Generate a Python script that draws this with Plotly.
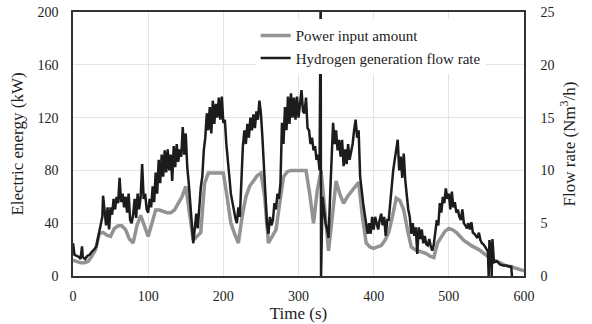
import plotly.graph_objects as go

# Power input amount (kW)
power_t = [0,5,10,15,20,25,30,35,40,45, 50,55,60,65,70,75,80,85,90,95,
           100,105,110,115,120,125,130,135,140,145, 150,155,160,165,170,175,180,190,200,205,
           210,215,220,225,230,235,240,245,250,255, 260,265,270,275,280,285,290,300,310,315,
           320,325,330,335,340,345,350,355,360,365, 370,375,380,385,390,395,400,405,410,415,
           420,425,430,435,440,445,450,455,460,465, 470,475,480,485,490,495,500,505,510,515,
           520,525,530,540,550,556,565,575,583,590, 600]
power_kw = [12,11,10,10,11,15,20,32,33,31, 30,36,38,38,35,28,25,38,46,38,
            30,40,50,50,49,48,48,50,55,60, 68,45,27,30,33,70,78,78,78,60,
            40,32,25,45,60,68,72,76,78,60, 25,30,35,55,75,79,80,80,80,62,
            40,65,80,50,19,45,72,62,55,60, 64,68,71,45,25,22,21,22,23,27,
            33,45,59,57,50,35,22,20,19,18, 17,15,14,25,30,34,36,35,33,30,
            27,25,23,20,16,13,11,8,7,6, 4]

# Hydrogen generation flow rate (Nm3/h)
h2_t = [0,2,5,8,10,12,13,16,19,22,
        25,28,31,34,37,39,40,42,44,46,
        48,50,52,54,56,58,60,62,64,66,
        68,70,72,74,76,78,80,82,84,86,
        88,90,92,94,96,98,100,102,104,106,
        108,110,112,114,116,118,120,122,124,126,
        128,130,132,134,136,138,140,142,144,146,
        148,150,152,154,156,158,160,162,164,166,
        168,170,172,174,176,178,180,182,184,186,
        188,190,192,194,196,198,200,202,204,206,
        208,210,212,214,216,218,220,222,224,226,
        228,230,232,234,236,238,240,242,244,246,
        248,250,252,254,256,258,260,262,264,266,
        268,270,272,274,276,278,280,282,284,286,
        288,290,292,294,296,298,300,302,304,306,
        308,310,312,314,316,318,320,322,324,326,
        328,329.5,330,332,334,336,338,340,342,344,
        346,348,350,352,354,356,358,360,362,364,
        366,368,370,372,374,376,378,380,382,384,
        386,388,390,392,394,396,398,400,402,404,
        406,408,410,412,414,416,418,420,422,424,
        426,428,430,432,434,436,438,440,442,444,
        446,448,450,452,454,456,458,460,462,464,
        466,468,470,472,474,476,478,480,482,484,
        486,488,490,492,494,496,498,500,502,504,
        506,508,510,512,514,516,518,520,522,524,
        526,528,530,532,534,536,538,540,542,544,
        546,548,550,552,553,554,556,557,558,560,
        564,568,572,576,580,583,584]
h2_flow = [3.1,2.0,1.9,1.8,1.6,2.8,1.8,1.6,1.9,2.0,
           2.3,2.5,2.8,3.8,4.8,5.6,7.6,6.0,4.8,6.5,
           4.4,6.5,5.8,7.3,6.3,7.5,6.9,9.3,7.0,7.8,
           6.5,7.5,6.0,7.8,5.3,5.0,5.8,7.3,5.5,7.8,
           6.3,7.5,10.6,7.3,7.8,6.3,6.0,7.3,6.5,8.5,
           7.0,9.8,7.8,11.0,8.8,11.5,9.4,11.9,9.8,12.0,
           10.0,11.5,9.0,12.3,10.3,12.5,10.8,12.0,11.3,14.1,
           11.5,13.5,10.3,8.8,6.3,5.0,3.1,4.8,5.9,4.5,
           6.9,8.4,9.4,11.9,13.1,15.4,13.8,16.0,13.5,16.6,
           14.4,16.3,15.0,16.9,14.8,17.0,14.5,14.8,12.5,10.6,
           9.4,7.8,6.9,6.0,5.5,5.0,6.5,5.6,9.4,12.3,
           13.8,12.5,14.4,13.1,15.0,13.8,15.3,14.0,15.6,14.8,
           16.6,15.4,13.1,10.0,7.5,5.0,4.0,5.6,4.8,5.3,
           6.9,6.3,7.8,7.3,8.8,14.5,12.5,16.0,13.8,17.0,
           14.4,17.3,15.0,16.9,14.8,17.0,15.0,16.3,17.6,15.6,
           15.4,16.9,14.0,13.8,12.5,13.1,11.9,12.3,11.0,11.5,
           10.0,26.3,0,7.5,6.0,5.0,4.4,3.6,7.5,10.6,
           14.5,12.5,13.8,11.9,12.9,11.3,12.9,10.4,12.0,10.6,
           12.5,11.0,11.6,12.5,13.8,14.8,13.1,13.8,9.4,7.8,
           6.9,5.9,5.0,4.0,5.0,4.0,5.6,4.4,5.6,4.8,
           4.4,5.3,5.9,4.8,5.6,3.8,5.3,5.3,6.9,8.8,
           10.0,11.0,11.9,12.9,10.0,11.3,9.3,11.6,9.1,7.5,
           6.3,5.6,4.0,5.0,3.8,4.6,2.1,4.6,3.5,4.4,
           3.1,3.8,3.0,2.9,3.5,2.8,2.4,3.0,4.4,5.3,
           4.8,6.9,6.0,7.5,6.9,8.3,7.3,7.8,6.3,8.0,
           6.5,7.0,6.0,6.3,5.6,5.3,6.3,5.0,4.8,4.5,
           5.0,4.4,5.1,4.1,4.0,3.8,3.6,4.1,3.4,3.1,
           3.0,2.8,2.5,2.3,0,3.4,2.3,0,3.5,1.3,
           1.4,1.1,1.0,1.0,0.9,0.9,0]

x_ticks = [0, 100, 200, 300, 400, 500, 600]
y1_ticks = [0, 40, 80, 120, 160, 200]
y2_ticks = [0, 5, 10, 15, 20, 25]

FONT = "Liberation Serif"

fig = go.Figure()
fig.add_trace(go.Scatter(x=power_t, y=power_kw, mode="lines", name="Power input amount",
                         line=dict(color="#939393", width=3.5), yaxis="y"))
fig.add_trace(go.Scatter(x=h2_t, y=h2_flow, mode="lines", name="Hydrogen generation flow rate",
                         line=dict(color="#1c1c1c", width=2.5), yaxis="y2"))

fig.update_layout(
    width=592, height=324,
    margin=dict(l=73, r=68, t=12, b=48),
    paper_bgcolor="white", plot_bgcolor="white",
    font=dict(family=FONT, size=14, color="#222"),
    showlegend=True,
    legend=dict(x=0.405, y=0.973, xanchor="left", yanchor="top",
                bgcolor="white", borderwidth=0, font=dict(family=FONT, size=15),
                tracegroupgap=0),
    xaxis=dict(range=[0, 600], tickvals=x_ticks, showgrid=True, gridcolor="#e4e4e4",
               gridwidth=1, zeroline=False, showline=True, linecolor="#333",
               linewidth=1.5, mirror=True, ticks="", ticklabelstandoff=6,
               automargin=False,
               title=dict(text="Time (s)", standoff=4)),
    yaxis=dict(range=[0, 200], tickvals=y1_ticks, showgrid=True, gridcolor="#e4e4e4",
               gridwidth=1, zeroline=False, showline=True, linecolor="#333",
               linewidth=1.5, ticks="", ticklabelstandoff=10, automargin=False,
               title=dict(text="Electric energy (kW)", standoff=10)),
    yaxis2=dict(range=[0, 25], tickvals=y2_ticks, overlaying="y", side="right",
                showgrid=False, zeroline=False, showline=True, linecolor="#333",
                linewidth=1.5, ticks="", ticklabelstandoff=12, automargin=False,
                title=dict(text="Flow rate (Nm<sup>3</sup>/h)", standoff=10)),
)

fig.write_html("out.html")
